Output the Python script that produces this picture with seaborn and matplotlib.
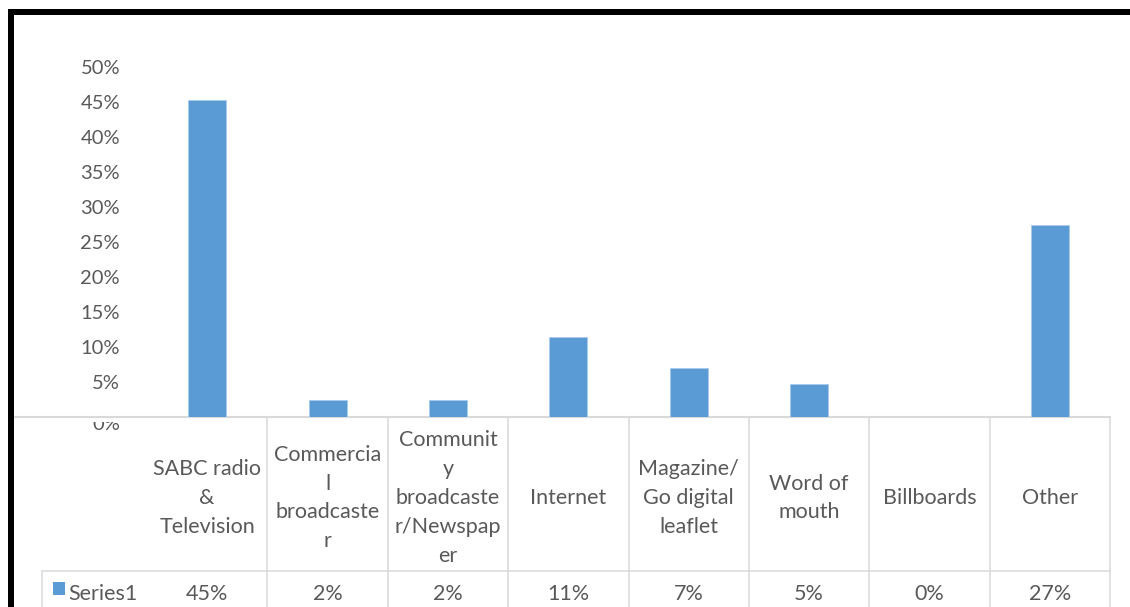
import matplotlib
matplotlib.use("Agg")
import matplotlib.pyplot as plt
import pandas as pd
import seaborn as sns
from matplotlib.transforms import blended_transform_factory, offset_copy
from matplotlib.patches import Rectangle
from matplotlib.lines import Line2D

# Source of information (share of respondents)
categories = [
    "SABC radio\n&\nTelevision",
    "Commercia\nl\nbroadcaste\nr",
    "Communit\ny\nbroadcaste\nr/Newspap\ner",
    "Internet",
    "Magazine/\nGo digital\nleaflet",
    "Word of\nmouth",
    "Billboards",
    "Other",
]
shares = [45.4, 2.4, 2.4, 11.4, 6.9, 4.7, 0.0, 27.4]
series_name = "Series1"
y_ticks = [5, 10, 15, 20, 25, 30, 35, 40, 45, 50]
y_tick_labels = [f"{t}%" for t in y_ticks]

BLUE = "#5B9BD5"
TEXT = "#595959"
GRID = "#D9D9D9"
W, H = 1130, 607
TABLE_FS = 15.5
TICK_FS = 14.5

sns.set_theme(style="white")
plt.rcParams["font.family"] = ["Lato", "DejaVu Sans"]

fig = plt.figure(figsize=(W / 100, H / 100), dpi=100)

# full-figure layer in pixel units for the frame and the data table
frame = fig.add_axes([0, 0, 1, 1])
frame.set_xlim(0, W)
frame.set_ylim(H, 0)
frame.axis("off")

plot_left, plot_right = 147, 1110
base_y, top_y = 416.5, 67.5
ax = fig.add_axes([plot_left / W, (H - base_y) / H,
                   (plot_right - plot_left) / W, (base_y - top_y) / H])
ax.patch.set_alpha(0)

df = pd.DataFrame({"category": categories, "share": shares})
sns.barplot(data=df, x="category", y="share", color=BLUE, saturation=1,
            width=0.316, edgecolor="#A9CBEA", linewidth=0.6, ax=ax)
ax.set_xlim(-0.5, 7.5)
ax.set_ylim(0, 50)
ax.set_xticks([])
ax.set_yticks(y_ticks)
ax.set_yticklabels(y_tick_labels)
ax.set_xlabel("")
ax.set_ylabel("")
sns.despine(ax=ax, left=True, bottom=True)
ax.tick_params(axis="y", length=0, pad=19.4, labelsize=TICK_FS, labelcolor=TEXT)

# zero label, its upper part tucked under the table header
zero_tr = offset_copy(ax.get_yaxis_transform(), fig=fig, x=-27, y=-8, units="dots")
frame.text(0, 0, "0%", transform=zero_tr, ha="right", va="center",
           fontsize=TICK_FS, color=TEXT, zorder=3)
frame.add_patch(Rectangle((60, 418.2), 70, 3.3, color="white", lw=0, zorder=4))

# data table
col = blended_transform_factory(ax.transData, frame.transData)
lw = 1.1
frame.add_line(Line2D([13, plot_right], [base_y, base_y], color=GRID, lw=1.5, zorder=5))
for i in range(len(categories)):
    frame.add_line(Line2D([i + 0.5, i + 0.5], [417, H], color=GRID, lw=lw, transform=col))
frame.add_line(Line2D([42, plot_right], [571, 571], color=GRID, lw=lw))
frame.add_line(Line2D([42, 42], [571, H], color=GRID, lw=lw))

for i, (lab, v) in enumerate(zip(categories, shares)):
    frame.text(i, 498, lab, transform=col, ha="center", va="center",
               multialignment="center", fontsize=TABLE_FS, color=TEXT, linespacing=1.55)
    frame.text(i, 594, f"{v:.0f}%", transform=col, ha="center", va="center",
               fontsize=TABLE_FS, color=TEXT)

frame.add_patch(Rectangle((53, 582), 12, 13, color=BLUE, lw=0))
frame.text(68, 594, series_name, ha="left", va="center", fontsize=TABLE_FS, color=TEXT)

# outer chart border
frame.add_patch(Rectangle((8, 9), W - 8, 6, color="black", lw=0, zorder=6))
frame.add_patch(Rectangle((8, 9), 6, H - 9, color="black", lw=0, zorder=6))

fig.savefig("out.png", dpi=100)
